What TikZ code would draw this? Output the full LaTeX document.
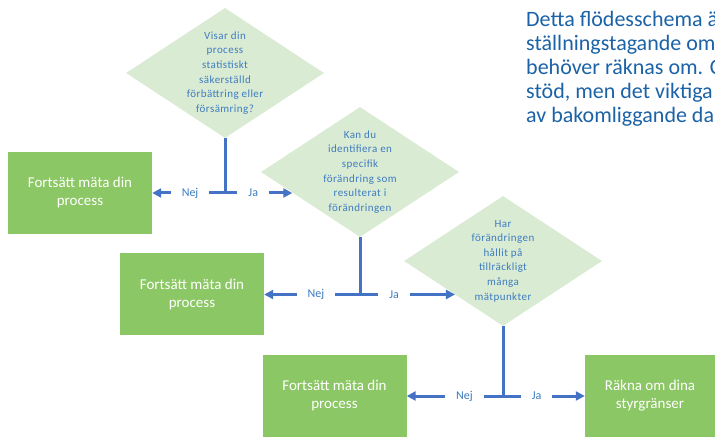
\documentclass[tikz,border=0pt]{standalone}
\usepackage{fontspec}
\setmainfont{Carlito}
\newfontfamily\fragafont{Carlito}[LetterSpace=4]
\usetikzlibrary{arrows.meta,positioning,shapes.geometric}
\definecolor{rutaGron}{HTML}{8CC765}
\definecolor{fragaGron}{HTML}{DAEBD3}
\definecolor{pilBla}{HTML}{4472C4}
\definecolor{textBla}{HTML}{3D7CC0}
\definecolor{rubrikBla}{HTML}{1B62A6}

\begin{document}
\begin{tikzpicture}[x=1pt, y=-1pt,
    fraga/.style={diamond, fill=fragaGron, minimum width=198pt, minimum height=130pt, inner sep=0pt},
    fragatext/.style={text=textBla, font=\fragafont\fontsize{11}{14.6}\selectfont, align=center, inner sep=0pt},
    utfall/.style={rectangle, fill=rutaGron, minimum width=144pt, minimum height=82pt, text=white, font=\fontsize{15}{18}\selectfont, align=center},
    linje/.style={draw=pilBla, line width=3pt},
    pil/.style={linje, -{Triangle[length=9pt,width=9pt]}},
    svar/.style={fill=white, text=textBla, font=\fontsize{12}{14}\selectfont, inner xsep=11pt, inner ysep=2pt}
  ]
  \useasboundingbox (0,0) rectangle (715,438);

  % Beskrivning uppe till höger (baslinje för sista raden)
  \node[anchor=base west, align=left, inner sep=0pt, text=rubrikBla, font=\fontsize{22}{24}\selectfont] (beskrivning) at (526,122.7)
    {Detta flödesschema ä\\ställningstagande om\\behöver räknas om. C\\stöd, men det viktiga\\av bakomliggande da};

  % Frågor
  \node[fraga] (q1) at (225,73) {};
  \node[fragatext] (q1text) at (q1.center) {Visar din\\process\\statistiskt\\säkerställd\\förbättring eller\\försämring?};
  \node[fraga] (q2) at (360,172) {};
  \node[fragatext] (q2text) at (q2.center) {Kan du\\identifiera en\\specifik\\förändring som\\resulterat i\\förändringen};
  \node[fraga] (q3) at (503,261) {};
  \node[fragatext] (q3text) at (q3.center) {Har\\förändringen\\hållit på\\tillräckligt\\många\\mätpunkter};

  % Utfall
  \node[utfall] (b1) at (80,193) {Fortsätt mäta din\\process};
  \node[utfall] (b2) at (192,294.5) {Fortsätt mäta din\\process};
  \node[utfall] (b3) at (334.5,396) {Fortsätt mäta din\\process};
  \node[utfall, minimum width=130pt] (b4) at (650,396) {Räkna om dina\\styrgränser};

  % Förgreningar
  \coordinate (j1) at (q1 |- b1);
  \coordinate (j2) at (q2 |- b2);
  \coordinate (j3) at (q3 |- b3);

  \draw[linje] (q1.south) -- (j1);
  \draw[pil] (j1) -- node[svar, pos=0.48] {Nej} (b1.east);
  \draw[pil] (j1) -- node[svar, pos=0.42] {Ja} (j1 -| q2.197);

  \draw[linje] (q2.south) -- (j2);
  \draw[pil] (j2) -- node[svar, pos=0.46] {Nej} (b2.east);
  \draw[pil] (j2) -- node[svar, pos=0.36] {Ja} (j2 -| q3.215);

  \draw[linje] (q3.south) -- (j3);
  \draw[pil] (j3) -- node[svar, pos=0.40] {Nej} (b3.east);
  \draw[pil] (j3) -- node[svar, pos=0.41] {Ja} (b4.west);
\end{tikzpicture}
\end{document}
